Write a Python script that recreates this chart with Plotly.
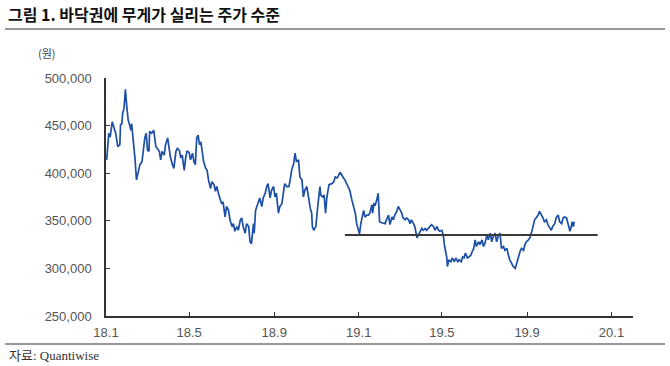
import plotly.graph_objects as go

title_text = "그림 1. 바닥권에 무게가 실리는 주가 수준"
unit_text = "(원)"
source_text = "자료: Quantiwise"

dates = [
"2018-01-02","2018-01-04","2018-01-05","2018-01-07","2018-01-10","2018-01-12","2018-01-15","2018-01-17","2018-01-18","2018-01-21",
"2018-01-22","2018-01-24","2018-01-25","2018-01-27","2018-01-29","2018-01-31","2018-02-01","2018-02-02","2018-02-04","2018-02-06",
"2018-02-07","2018-02-09","2018-02-11","2018-02-12","2018-02-14","2018-02-17","2018-02-19","2018-02-22","2018-02-24","2018-02-26",
"2018-02-28","2018-03-02","2018-03-04","2018-03-05","2018-03-08","2018-03-11","2018-03-14","2018-03-16","2018-03-19","2018-03-21",
"2018-03-23","2018-03-26","2018-03-28","2018-03-31","2018-04-02","2018-04-04","2018-04-07","2018-04-09","2018-04-12","2018-04-14",
"2018-04-17","2018-04-19","2018-04-21","2018-04-24","2018-04-26","2018-04-28","2018-05-01","2018-05-03","2018-05-06","2018-05-08",
"2018-05-10","2018-05-12","2018-05-14","2018-05-16","2018-05-18","2018-05-20","2018-05-22","2018-05-25","2018-05-27","2018-05-29",
"2018-06-01","2018-06-03","2018-06-06","2018-06-08","2018-06-10","2018-06-13","2018-06-14","2018-06-17","2018-06-19","2018-06-22",
"2018-06-24","2018-06-27","2018-06-29","2018-07-02","2018-07-04","2018-07-06","2018-07-09","2018-07-11","2018-07-14","2018-07-16",
"2018-07-18","2018-07-21","2018-07-23","2018-07-26","2018-07-28","2018-07-30","2018-08-02","2018-08-03","2018-08-05","2018-08-07",
"2018-08-09","2018-08-11","2018-08-14","2018-08-16","2018-08-19","2018-08-21","2018-08-23","2018-08-26","2018-08-28","2018-08-31",
"2018-09-02","2018-09-04","2018-09-07","2018-09-09","2018-09-12","2018-09-14","2018-09-16","2018-09-19","2018-09-22","2018-09-24",
"2018-09-26","2018-09-29","2018-10-01","2018-10-03","2018-10-06","2018-10-08","2018-10-11","2018-10-13","2018-10-15","2018-10-18",
"2018-10-20","2018-10-23","2018-10-25","2018-10-26","2018-10-28","2018-10-31","2018-11-03","2018-11-06","2018-11-07","2018-11-10",
"2018-11-12","2018-11-14","2018-11-16","2018-11-19","2018-11-23","2018-11-26","2018-11-28","2018-12-01","2018-12-05","2018-12-07",
"2018-12-10","2018-12-12","2018-12-15","2018-12-17","2018-12-19","2018-12-22","2018-12-24","2018-12-27","2018-12-29","2019-01-02",
"2019-01-04","2019-01-06","2019-01-08","2019-01-10","2019-01-13","2019-01-15","2019-01-17","2019-01-20","2019-01-21","2019-01-23",
"2019-01-25","2019-01-27","2019-01-29","2019-01-30","2019-01-31","2019-02-03","2019-02-08","2019-02-10","2019-02-13","2019-02-15",
"2019-02-18","2019-02-20","2019-02-22","2019-02-25","2019-02-27","2019-03-02","2019-03-04","2019-03-06","2019-03-09","2019-03-11",
"2019-03-14","2019-03-16","2019-03-18","2019-03-21","2019-03-23","2019-03-26","2019-03-28","2019-03-30","2019-04-02","2019-04-04",
"2019-04-07","2019-04-09","2019-04-11","2019-04-14","2019-04-16","2019-04-19","2019-04-21","2019-04-24","2019-04-26","2019-04-28",
"2019-05-01","2019-05-03","2019-05-05","2019-05-08","2019-05-09","2019-05-11","2019-05-14","2019-05-16","2019-05-19","2019-05-21",
"2019-05-24","2019-05-26","2019-05-29","2019-05-31","2019-06-02","2019-06-04","2019-06-07","2019-06-09","2019-06-12","2019-06-14",
"2019-06-16","2019-06-18","2019-06-20","2019-06-23","2019-06-25","2019-06-28","2019-06-30","2019-07-02","2019-07-05","2019-07-07",
"2019-07-10","2019-07-12","2019-07-14","2019-07-17","2019-07-19","2019-07-22","2019-07-24","2019-07-26","2019-07-29","2019-07-31",
"2019-08-03","2019-08-05","2019-08-07","2019-08-10","2019-08-12","2019-08-15","2019-08-17","2019-08-19","2019-08-22","2019-08-24",
"2019-08-27","2019-08-29","2019-08-31","2019-09-03","2019-09-05","2019-09-08","2019-09-10","2019-09-12","2019-09-15","2019-09-17",
"2019-09-19","2019-09-22","2019-09-24","2019-09-26","2019-09-29","2019-10-01","2019-10-04","2019-10-06","2019-10-08","2019-10-11",
"2019-10-13","2019-10-16","2019-10-18","2019-10-21","2019-10-23","2019-10-25","2019-10-28","2019-10-30","2019-11-02","2019-11-04",
"2019-11-05","2019-11-07","2019-11-08",
]

prices = [
414,438,442,438,454,449,442,433,428,430,
451,452,463,468,488,470,463,456,451,445,
452,437,428,414,393,403,409,412,423,437,
442,424,423,444,442,445,428,426,423,414,
423,419,430,437,428,417,409,405,423,426,
424,416,419,403,416,423,422,414,421,412,
409,437,440,430,433,424,412,405,403,393,
384,391,388,381,386,377,374,368,370,354,
365,361,351,344,347,339,344,340,351,353,
344,337,347,344,328,326,347,337,361,365,
370,374,365,374,379,386,389,374,382,386,
375,379,358,365,368,382,389,386,386,393,
403,410,421,412,414,396,393,375,382,386,
375,363,358,344,340,344,367,386,377,375,
377,358,375,388,389,391,396,395,401,398,
395,393,388,386,382,372,365,358,347,336,
347,356,361,354,356,356,358,367,358,368,
367,372,379,365,349,348,347,351,356,346,
354,351,356,360,365,361,358,353,351,353,
351,347,351,347,344,332,335,339,342,340,
342,340,342,344,346,344,340,344,340,339,
340,335,323,312,302,309,307,311,307,311,
307,309,307,312,311,316,311,312,314,318,
321,330,323,328,325,330,323,326,335,330,
337,328,333,337,328,335,337,321,323,319,
321,314,309,305,302,300,305,312,318,321,
319,325,328,330,332,339,346,351,354,356,
360,356,353,349,351,346,342,340,344,347,
353,356,349,347,353,354,353,346,339,344,
349,344,349,
]
prices = [p * 1000 for p in prices]

support_dates = ["2018-12-12", "2019-12-12"]
support_level = [335000, 335000]

tick_vals = ["2018-01-01", "2018-05-01", "2018-09-01", "2019-01-01", "2019-05-01", "2019-09-01", "2020-01-01"]
tick_text = ["18.1", "18.5", "18.9", "19.1", "19.5", "19.9", "20.1"]
y_ticks = [250000, 300000, 350000, 400000, 450000, 500000]
y_tick_text = ["250,000", "300,000", "350,000", "400,000", "450,000", "500,000"]

fig = go.Figure()
fig.add_trace(go.Scatter(x=dates, y=prices, mode="lines",
                         line=dict(color="#1C4FA6", width=1.7), showlegend=False))
fig.add_trace(go.Scatter(x=support_dates, y=support_level, mode="lines",
                         line=dict(color="#3a3a3a", width=2), showlegend=False))

L, R, T, B = 106, 37, 78, 50
W, H = 670, 366
pw, ph = W - L - R, H - T - B

def px(x):
    return (x - L) / pw

def py(y):
    return (H - B - y) / ph

fig.update_layout(
    width=W, height=H,
    margin=dict(l=L, r=R, t=T, b=B),
    paper_bgcolor="white", plot_bgcolor="white",
    font=dict(family="Liberation Sans, Noto Sans CJK KR", size=13, color="#555555"),
    xaxis=dict(
        type="date", range=["2018-01-01", "2020-02-01"],
        tickvals=tick_vals, ticktext=tick_text,
        showgrid=False, zeroline=False,
        showline=True, linecolor="#333333", linewidth=1.5,
        ticks="inside", ticklen=4, tickcolor="#333333", tickwidth=1,
        tickfont=dict(size=13, color="#555555"),
        ticklabelstandoff=4,
    ),
    yaxis=dict(
        range=[250000, 500000],
        tickvals=y_ticks, ticktext=y_tick_text,
        showgrid=False, zeroline=False,
        showline=True, linecolor="#333333", linewidth=1.5,
        ticks="inside", ticklen=4, tickcolor="#333333", tickwidth=1,
        tickfont=dict(size=13, color="#555555"),
        ticklabelstandoff=10,
    ),
    annotations=[
        dict(text=title_text, xref="paper", yref="paper", x=px(6), y=py(14),
             xanchor="left", yanchor="middle", showarrow=False,
             font=dict(family="Noto Sans CJK KR", size=16, color="#111111", weight="bold")),
        dict(text=unit_text, xref="paper", yref="paper", x=px(47), y=py(53),
             xanchor="center", yanchor="middle", showarrow=False,
             font=dict(family="Noto Sans CJK KR", size=11, color="#444444")),
        dict(text=source_text, xref="paper", yref="paper", x=px(7), y=py(355),
             xanchor="left", yanchor="middle", showarrow=False,
             font=dict(family="Liberation Serif, Noto Sans CJK KR", size=13, color="#333333")),
    ],
    shapes=[
        dict(type="line", xref="paper", yref="paper", x0=px(5), x1=px(665), y0=py(29), y1=py(29),
             line=dict(color="#333333", width=1.2)),
        dict(type="line", xref="paper", yref="paper", x0=px(5), x1=px(665), y0=py(344), y1=py(344),
             line=dict(color="#333333", width=1.2)),
    ],
)

fig.write_html("out.html", config={"displayModeBar": False},
               post_script="document.body.style.margin='0px';document.body.style.overflow='hidden';")
